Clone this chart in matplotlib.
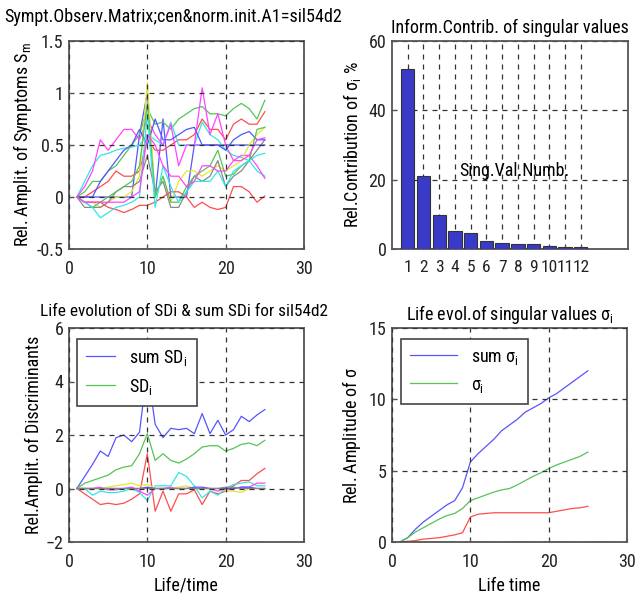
import matplotlib
matplotlib.use("Agg")
import matplotlib.pyplot as plt
import numpy as np

plt.rcParams['font.family'] = ['Roboto Condensed', 'DejaVu Sans']
plt.rcParams['mathtext.fontset'] = 'custom'
plt.rcParams['mathtext.rm'] = 'Roboto Condensed'
plt.rcParams['mathtext.it'] = 'Roboto Condensed'
plt.rcParams['font.size'] = 13

# life time points
t = np.arange(1, 26)

# symptom observation matrix (centered & normalized), one row per symptom
symptoms = [
    [0, 0, 0, 0, 0, 0, 0, 0, 0.6, 1.0, 0, 0.75, 0, 0, 0, 0.5, 0.5, 0.5, 0.5, 0.5, 0.5, 0.5, 0.5, 0.5, 0.5],
    [0, 0.05, 0.15, 0.15, 0.25, 0.3, 0.4, 0.5, 0.6, 0.85, 0.7, 0.72, 0.65, 0.75, 0.8, 0.85, 0.87, 0.8, 0.8, 0.78, 0.85, 0.9, 0.85, 0.75, 0.93],
    [0, 0, 0.05, 0.1, 0.15, 0.25, 0.2, 0.2, 0.25, 0.55, 0.45, 0.45, 0.5, 0.55, 0.55, 0.6, 0.75, 0.65, 0.65, 0.55, 0.7, 0.75, 0.7, 0.7, 0.82],
    [0, 0.15, 0.3, 0.4, 0.42, 0.45, 0.47, 0.48, 0.5, 0.6, 0.55, 0.5, 0.72, 0.5, 0.5, 0.5, 0.72, 0.6, 0.55, 0.45, 0.4, 0.38, 0.35, 0.25, 0.2],
    [0, 0.1, 0.25, 0.55, 0.45, 0.55, 0.65, 0.65, 0.55, 0.75, 0.6, 0.5, 0.7, 0.3, 0.5, 0.5, 1.05, 0.6, 0.8, 0.5, 0.35, 0.4, 0.4, 0.3, 0.18],
    [0, -0.05, -0.05, -0.1, -0.05, 0, 0, 0.05, 0.2, 1.1, 0, 0.2, -0.05, 0.15, 0.25, 0.25, 0.2, 0.25, 0.3, 0.25, 0.3, 0.35, 0.5, 0.6, 0.67],
    [0, -0.1, -0.1, -0.1, -0.05, 0.05, 0.1, 0.1, 0.15, 0.4, 0.05, 0.15, -0.1, -0.1, 0.05, 0.2, 0.15, 0.2, 0.35, 0.1, 0.2, 0.25, 0.35, 0.45, 0.55],
    [0, 0, 0, 0.15, 0.25, 0.35, 0.45, 0.5, 0.65, 0.5, 0.75, 0.55, 0.55, 0.6, 0.65, 0.67, 0.5, 0.5, 0.5, 0.45, 0.55, 0.6, 0.63, 0.55, 0.55],
    [0, -0.05, -0.1, -0.05, 0, 0.05, 0.1, 0.15, 0.3, 0.9, 0, 0.2, -0.05, -0.05, 0.1, 0.2, 0.25, 0.3, 0.45, 0.2, 0.22, 0.3, 0.35, 0.65, 0.67],
    [0, -0.05, -0.05, -0.05, -0.1, -0.12, -0.15, -0.12, -0.08, -0.08, -0.05, 0, 0.05, 0.05, 0, -0.1, -0.05, -0.1, -0.12, -0.1, 0.1, 0.1, 0.05, -0.05, 0.01],
    [0, -0.05, -0.1, -0.2, -0.15, -0.1, -0.08, -0.05, 0, 0.8, -0.1, 0.3, 0.1, -0.05, 0.05, 0.15, 0.15, 0.15, 0.25, 0.1, 0.25, 0.3, 0.35, 0.4, 0.42],
    [0, -0.05, -0.05, -0.05, -0.05, -0.05, -0.05, 0, 0.05, 0.6, 0.5, 0.3, 0.2, 0.2, 0.1, 0.15, 0.3, 0.3, 0.25, 0.25, 0.35, 0.35, 0.4, 0.55, 0.57],
]

# information contribution of singular values (%)
sv_num = np.arange(1, 13)
sv_contrib = [52, 21, 9.7, 5.2, 4.7, 2.2, 1.8, 1.4, 1.4, 1.0, 0.5, 0.5]

# symptom discriminants
sum_sd = [0, 0.45, 0.9, 1.4, 1.2, 1.9, 2.0, 1.75, 2.1, 4.5, 2.4, 1.9, 2.25, 2.2, 2.25, 2.05, 2.8, 2.05, 2.55, 2.0, 2.2, 2.7, 2.5, 2.75, 2.95]
sd_i = [
    [0, 0.2, 0.3, 0.4, 0.5, 0.7, 0.8, 0.85, 1.3, 2.05, 1.05, 1.3, 1.05, 0.95, 1.1, 1.3, 1.55, 1.6, 1.6, 1.4, 1.5, 1.65, 1.7, 1.6, 1.8],
    [0, -0.2, -0.4, -0.6, -0.55, -0.6, -0.55, -0.4, -0.2, 1.3, -0.85, -0.1, -0.85, -0.2, -0.2, -0.05, -0.6, -0.1, -0.2, -0.1, 0.1, 0.3, 0.3, 0.55, 0.75],
    [0, 0, -0.25, -0.1, -0.15, -0.15, -0.1, 0, -0.15, -0.45, 0.1, 0.1, 0.1, 0.6, 0.45, 0.1, -0.35, -0.1, -0.25, 0, 0.15, 0.2, 0.25, 0.1, 0.1],
    [0, 0, 0, 0.05, -0.05, -0.05, 0, 0.05, -0.1, -0.25, 0, 0, 0.05, 0, 0, 0, 0, 0, -0.1, 0, 0, 0.05, 0.05, 0.2, 0.2],
    [0, 0, 0, 0, 0.05, 0.1, 0.15, 0.2, 0.1, 0.15, 0, 0, 0, 0.05, 0.1, 0, 0, 0, 0, -0.1, -0.1, -0.15, 0, 0, 0],
    [0, 0, 0, 0, 0, 0, 0, 0, 0, 0.05, 0, 0, 0, 0, 0, 0.05, 0.05, 0, 0, 0, 0, 0.05, 0.05, 0, 0],
    [0, 0, 0, 0, 0, 0, 0, 0, 0, 0, 0, 0, 0, 0, 0, 0, 0, 0, 0, 0.05, 0.05, 0, 0, 0, 0],
]

# singular values life evolution
sum_sigma = [0, 0.3, 0.9, 1.4, 1.8, 2.2, 2.6, 2.9, 3.8, 5.6, 6.2, 6.7, 7.2, 7.8, 8.2, 8.6, 9.1, 9.4, 9.7, 10.1, 10.4, 10.8, 11.2, 11.6, 12.0]
sigma_1 = [0, 0.3, 0.7, 1.0, 1.3, 1.6, 1.85, 2.0, 2.35, 2.9, 3.1, 3.3, 3.5, 3.65, 3.75, 4.0, 4.3, 4.6, 4.85, 5.15, 5.4, 5.6, 5.8, 6.0, 6.3]
sigma_2 = [0, 0.05, 0.1, 0.2, 0.25, 0.3, 0.4, 0.5, 0.65, 1.75, 1.95, 2.0, 2.05, 2.05, 2.05, 2.05, 2.05, 2.05, 2.05, 2.05, 2.15, 2.25, 2.35, 2.4, 2.5]

cB, cG, cR = '#5555ff', '#55c455', '#ff4d4d'
cC, cM, cY, cK = '#33e6e6', '#ff44ff', '#e6e633', '#888888'
sym_colors = [cB, cG, cR, cC, cM, cY, cK, cB, cG, cR, cC, cM]
sd_colors = [cG, cR, cC, cM, cY, cB, cK]

frame = '#555555'


def style(ax):
    for s in ax.spines.values():
        s.set_color(frame)
        s.set_linewidth(1.3)
    ax.tick_params(direction='in', length=3, color=frame, labelcolor='#222222', pad=4)
    ax.tick_params(axis='x', pad=8)
    ax.grid(True, color='#333333', linestyle=(0, (4, 4)), linewidth=0.9)
    ax.set_axisbelow(False)


fig = plt.figure(figsize=(6.36, 5.97), dpi=100)
W, H = 636, 597


def add(l, tp, r, b):
    return fig.add_axes([l / W, 1 - b / H, (r - l) / W, (b - tp) / H])


def legend(ax, x0, handle):
    leg = ax.legend(loc='upper left', bbox_to_anchor=(x0, 0.95),
                    fancybox=False, edgecolor='#444444', framealpha=1, handlelength=handle,
                    borderaxespad=0, labelspacing=0.5, borderpad=0.5)
    leg.get_frame().set_linewidth(1.2)


# top left
ax1 = add(69, 41, 304, 249)
for row, c in zip(symptoms, sym_colors):
    ax1.plot(t, row, color=c, lw=0.9)
ax1.set_xlim(0, 30)
ax1.set_ylim(-0.5, 1.5)
ax1.set_xticks([0, 10, 20, 30])
ax1.set_yticks([-0.5, 0, 0.5, 1, 1.5])
ax1.set_yticklabels(['-0.5', '0', '0.5', '1', '1.5'])
style(ax1)
ax1.set_ylabel('Rel. Amplit. of Symptoms S$_m$', labelpad=2)
fig.text(173 / W, 1 - 17 / H, 'Sympt.Observ.Matrix;cen&norm.init.A1=sil54d2',
         ha='center', va='center', fontsize=13.1)

# top right
ax2 = add(392, 41, 628, 249)
ax2.bar(sv_num, sv_contrib, width=0.85, color='#3a3ac8', edgecolor='#333333', linewidth=0.8, zorder=3)
ax2.set_xlim(0, 15)
ax2.set_ylim(0, 60)
ax2.set_xticks(sv_num)
ax2.set_yticks([0, 20, 40, 60])
style(ax2)
ax2.tick_params(axis='x', labelsize=12.5)
ax2.set_axisbelow(True)
ax2.text(7.75, 22.5, 'Sing.Val.Numb.', ha='center', va='center', zorder=4)
ax2.set_ylabel('Rel.Contribution of $\\sigma_i$ %', labelpad=4)
ax2.set_title('Inform.Contrib. of singular values', fontsize=13, pad=6)

# bottom left
ax3 = add(69, 328, 304, 542)
ax3.plot(t, sum_sd, color=cB, lw=0.9, label='sum SD$_i$')
for k, (row, c) in enumerate(zip(sd_i, sd_colors)):
    ax3.plot(t, row, color=c, lw=0.9, label='SD$_i$' if k == 0 else None)
ax3.set_xlim(0, 30)
ax3.set_ylim(-2, 6)
ax3.set_xticks([0, 10, 20, 30])
ax3.set_yticks([-2, 0, 2, 4, 6])
style(ax3)
ax3.set_ylabel('Rel.Amplit. of Discriminants', labelpad=2)
ax3.set_xlabel('Life/time', labelpad=4)
fig.text(184 / W, 1 - 311 / H, 'Life evolution of SDi & sum SDi for sil54d2',
         ha='center', va='center', fontsize=12.4)
legend(ax3, 0.034, 1.6)

# bottom right
ax4 = add(392, 328, 627, 542)
ax4.plot(t, sum_sigma, color=cB, lw=0.9, label='sum $\\sigma_i$')
ax4.plot(t, sigma_1, color=cG, lw=0.9, label='$\\sigma_i$')
ax4.plot(t, sigma_2, color=cR, lw=0.9)
ax4.set_xlim(0, 30)
ax4.set_ylim(0, 15)
ax4.set_xticks([0, 10, 20, 30])
ax4.set_yticks([0, 5, 10, 15])
style(ax4)
ax4.set_ylabel('Rel. Amplitude of $\\sigma$', labelpad=4)
ax4.set_xlabel('Life time', labelpad=4)
ax4.set_title('Life evol.of singular values $\\sigma_i$', fontsize=13, pad=6)
legend(ax4, 0.037, 2.6)

fig.savefig('out.png', dpi=100)
